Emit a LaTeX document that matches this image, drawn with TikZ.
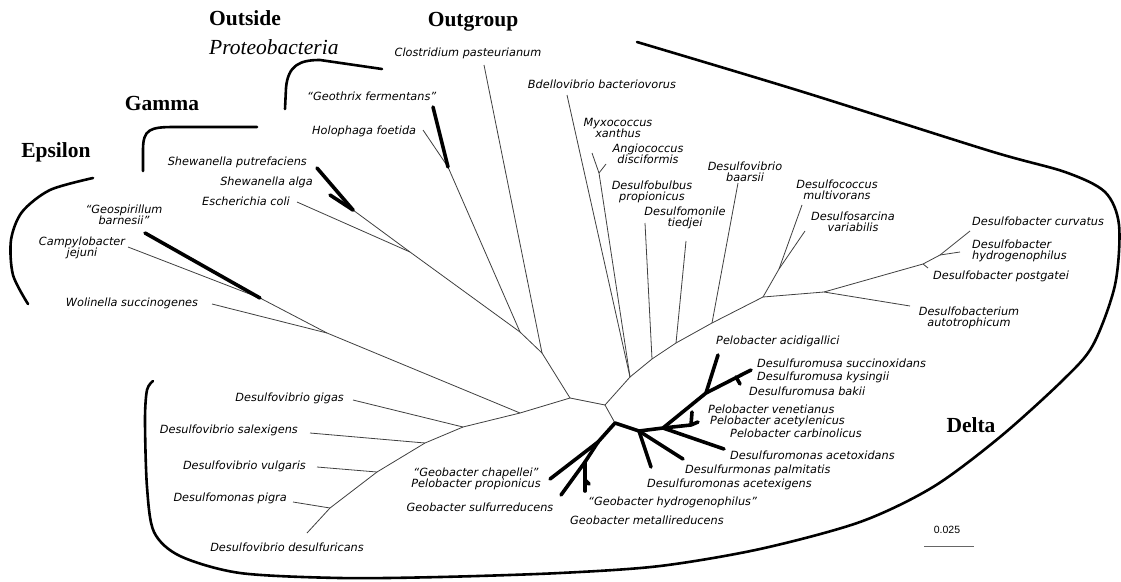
\documentclass[tikz,border=0pt]{standalone}
\usepackage{fontspec}
\newfontfamily\taxfont{DejaVu Sans}
\newfontfamily\cladefont{Liberation Serif}
\newfontfamily\barfont{Liberation Sans}
\usetikzlibrary{calc}
\tikzset{
  branch/.style={line width=0.8pt, draw=black!75, line join=round},
  heavy/.style={line width=3.6pt, draw=black, line cap=round, line join=round},
  bracket/.style={line width=2.6pt, draw=black, line cap=round, line join=round},
  taxon/.style={font=\taxfont\fontsize{11.3pt}{11.4pt}\selectfont\itshape, inner sep=0pt, align=center},
  clade/.style={font=\cladefont\fontsize{21.5pt}{24pt}\selectfont\bfseries, inner sep=0pt, align=left},
  scalebar/.style={line width=0.9pt, draw=black!60}
}
\begin{document}
\begin{tikzpicture}[x=1pt,y=-1pt]
\useasboundingbox (0,0) rectangle (1121,581);
\fill[white] (0,0) rectangle (1121,581);

% inner junctions
\coordinate (A) at (570,398);
\coordinate (B) at (605,405);
\coordinate (C) at (630,377);
\coordinate (D) at (615,423);
\coordinate (E) at (520,413);
\coordinate (F) at (542,353);
\coordinate (G) at (520,332);

% outgroup and gamma side
\coordinate (tClos) at (484,65);
\coordinate (H) at (448,167);
\coordinate (tGeot) at (433,107);
\coordinate (tHolo) at (423,130);
\coordinate (J) at (410,252);
\coordinate (S1) at (353,210);
\coordinate (tSput) at (317,168);
\coordinate (tSalg) at (330,195);
\coordinate (tEcoli) at (297,202);

% epsilon
\coordinate (K) at (260,298);
\coordinate (L) at (327,333);
\coordinate (tGeos) at (145,233);
\coordinate (tCamp) at (128,247);
\coordinate (tWol) at (212,304);

% desulfovibrio line
\coordinate (M) at (463,427);
\coordinate (N) at (425,443);
\coordinate (O) at (377,472);
\coordinate (P) at (330,508);
\coordinate (tDdes) at (307,533);
\coordinate (tGigas) at (353,400);
\coordinate (tSalex) at (310,433);
\coordinate (tVulg) at (317,467);
\coordinate (tPigra) at (293,502);

% myxobacteria and sulfate reducers
\coordinate (tBdel) at (567,95);
\coordinate (R) at (599,173);
\coordinate (tMyxo) at (592,153);
\coordinate (tAngio) at (606,164);
\coordinate (c1) at (652,359);
\coordinate (c2) at (676,343);
\coordinate (c3) at (712,323);
\coordinate (S) at (763,297);
\coordinate (T) at (779,269);
\coordinate (U) at (824,292);
\coordinate (W1) at (923,264);
\coordinate (W2) at (940,255);
\coordinate (tBulb) at (645,223);
\coordinate (tMoni) at (686,241);
\coordinate (tBaar) at (738,183);
\coordinate (tCocc) at (802,205);
\coordinate (tSarc) at (805,231);
\coordinate (tBact) at (910,306);
\coordinate (tPost) at (928,268);
\coordinate (tHydr) at (960,252);
\coordinate (tCurv) at (970,231);

% geobacter cluster
\coordinate (Z1) at (598,442);
\coordinate (Z2) at (585,462);
\coordinate (Z3) at (585,480);
\coordinate (tChap) at (550,479);
\coordinate (tSulf) at (561,495);
\coordinate (tHyd) at (585,491);
\coordinate (tMet) at (589,484);
\coordinate (X1) at (639,431);
\coordinate (X2) at (663,428);
\coordinate (X3) at (706,393);
\coordinate (Y) at (691,425);
\coordinate (Xm) at (736,377);
\coordinate (tAcex) at (651,467);
\coordinate (tPalm) at (683,459);
\coordinate (tAcox) at (724,449);
\coordinate (tVene) at (692,412);
\coordinate (tAcet) at (698,422);
\coordinate (tAcid) at (718,355);
\coordinate (tMusa) at (751,370);
\coordinate (tBaki) at (740,384);

% thin branches
\draw[branch] (E) -- (A) -- (B) -- (C);
\draw[branch] (B) -- (D);
\draw[branch] (A) -- (F) -- (G) -- (J) -- (S1);
\draw[branch] (F) -- (tClos);
\draw[branch] (G) -- (H) -- (tHolo);
\draw[branch] (J) -- (tEcoli);
\draw[branch] (E) -- (L) -- (K) -- (tCamp);
\draw[branch] (L) -- (tWol);
\draw[branch] (E) -- (M) -- (N) -- (O) -- (P) -- (tDdes);
\draw[branch] (M) -- (tGigas);
\draw[branch] (N) -- (tSalex);
\draw[branch] (O) -- (tVulg);
\draw[branch] (P) -- (tPigra);
\draw[branch] (C) -- (tBdel);
\draw[branch] (C) -- (R) -- (tMyxo);
\draw[branch] (R) -- (tAngio);
\draw[branch] (C) -- (c1) -- (c2) -- (c3) -- (S) -- (U) -- (W1) -- (W2) -- (tCurv);
\draw[branch] (c1) -- (tBulb);
\draw[branch] (c2) -- (tMoni);
\draw[branch] (c3) -- (tBaar);
\draw[branch] (S) -- (T) -- (tCocc);
\draw[branch] (T) -- (tSarc);
\draw[branch] (U) -- (tBact);
\draw[branch] (W1) -- (tPost);
\draw[branch] (W2) -- (tHydr);

% thick branches
\draw[heavy] (H) -- (tGeot);
\draw[heavy] (S1) -- (tSput);
\draw[heavy] (S1) -- (tSalg);
\draw[heavy] (K) -- (tGeos);
\draw[heavy] (tChap) -- (Z1) -- (D) -- (X1) -- (X2) -- (X3) -- (tMusa);
\draw[heavy] (Z1) -- (Z2) -- (tSulf);
\draw[heavy] (Z2) -- (tHyd);
\draw[heavy] (Z3) -- (tMet);
\draw[heavy] (X1) -- (tAcex);
\draw[heavy] (X1) -- (tPalm);
\draw[heavy] (X2) -- (tAcox);
\draw[heavy] (X2) -- (Y) -- (tVene);
\draw[heavy] (Y) -- (tAcet);
\draw[heavy] (X3) -- (tAcid);
\draw[heavy] (Xm) -- (tBaki);

% taxa
\node[taxon] (lClos) at (468,53) {Clostridium pasteurianum};
\node[taxon] (lBdel) at (602,84) {Bdellovibrio bacteriovorus};
\node[taxon] (lMyxo) at (618,128) {Myxococcus\\xanthus};
\node[taxon] (lAngio) at (648,154) {Angiococcus\\disciformis};
\node[taxon] (lBulb) at (652,192) {Desulfobulbus\\propionicus};
\node[taxon] (lMoni) at (685,218) {Desulfomonile\\tiedjei};
\node[taxon] (lBaar) at (745,172) {Desulfovibrio\\baarsii};
\node[taxon] (lCocc) at (837,190) {Desulfococcus\\multivorans};
\node[taxon] (lSarc) at (853,222) {Desulfosarcina\\variabilis};
\node[taxon, anchor=west] (lCurv) at (972,221) {Desulfobacter curvatus};
\node[taxon, anchor=west, align=left] (lHydr) at (972,251) {Desulfobacter\\hydrogenophilus};
\node[taxon, anchor=west] (lPost) at (933,276) {Desulfobacter postgatei};
\node[taxon] (lBact) at (969,318) {Desulfobacterium\\autotrophicum};
\node[taxon, anchor=west] (lAcid) at (716,341) {Pelobacter acidigallici};
\node[taxon, anchor=west] (lSucc) at (757,363) {Desulfuromusa succinoxidans};
\node[taxon, anchor=west] (lKysi) at (757,377) {Desulfuromusa kysingii};
\node[taxon, anchor=west] (lBaki) at (749,391) {Desulfuromusa bakii};
\node[taxon, anchor=west] (lVene) at (708,409) {Pelobacter venetianus};
\node[taxon, anchor=west] (lAcet) at (710,421) {Pelobacter acetylenicus};
\node[taxon, anchor=west] (lCarb) at (730,433) {Pelobacter carbinolicus};
\node[taxon, anchor=west] (lAcox) at (730,455) {Desulfuromonas acetoxidans};
\node[taxon, anchor=west] (lPalm) at (685,470) {Desulfurmonas palmitatis};
\node[taxon, anchor=west] (lAcex) at (647,484) {Desulfuromonas acetexigens};
\node[taxon, anchor=west] (lHyd) at (588,502) {“Geobacter hydrogenophilus”};
\node[taxon, anchor=west] (lMet) at (570,520) {Geobacter metallireducens};
\node[taxon] (lChap) at (476,479) {“Geobacter chapellei”\\Pelobacter propionicus};
\node[taxon] (lSulf) at (480,507) {Geobacter sulfurreducens};
\node[taxon, anchor=east] (lGigas) at (344,398) {Desulfovibrio gigas};
\node[taxon, anchor=east] (lSalex) at (298,430) {Desulfovibrio salexigens};
\node[taxon, anchor=east] (lVulg) at (306,466) {Desulfovibrio vulgaris};
\node[taxon, anchor=east] (lPigra) at (287,498) {Desulfomonas pigra};
\node[taxon] (lDdes) at (287,547) {Desulfovibrio desulfuricans};
\node[taxon] (lWol) at (132,303) {Wolinella succinogenes};
\node[taxon] (lCamp) at (82,248) {Campylobacter\\jejuni};
\node[taxon] (lGeos) at (124,215) {“Geospirillum\\barnesii”};
\node[taxon, anchor=east] (lEcoli) at (290,201) {Escherichia coli};
\node[taxon, anchor=east] (lSalg) at (313,182) {Shewanella alga};
\node[taxon, anchor=east] (lSput) at (307,162) {Shewanella putrefaciens};
\node[taxon, anchor=west] (lHolo) at (312,131) {Holophaga foetida};
\node[taxon, anchor=west] (lGeot) at (307,96) {“Geothrix fermentans”};

% groups
\node[clade] (outgroup) at (473,22) {Outgroup};
\node[clade, anchor=west, font=\cladefont\fontsize{21.5pt}{29pt}\selectfont\bfseries] (outside) at (209,33) {Outside\\\mdseries\itshape Proteobacteria};
\node[clade] (gamma) at (162,103) {Gamma};
\node[clade] (epsilon) at (56,152) {Epsilon};
\node[clade] (delta) at (971,425) {Delta};

\draw[bracket] plot[smooth] coordinates {(93,178) (50,190) (22,212) (11,240) (13,275) (28,304)};
\draw[bracket] (143,171) -- (143,150) .. controls (143,129) and (150,127) .. (175,127) -- (257,127);
\draw[bracket] (285,109) -- (286,88) .. controls (288,65) and (300,60) .. (320,60) -- (382,69);
\draw[bracket] plot[smooth, tension=0.5] coordinates {(637,42) (800,91) (990,151) (1065,172) (1105,192) (1119,225) (1115,285) (1093,345) (1063,380) (1000,437) (933,487) (860,522) (760,549) (660,566) (560,573) (440,577) (340,578) (240,573) (180,556) (154,532) (147,487) (145,420) (147,390) (153,381)};

% scale
\node[font=\barfont\fontsize{10.5pt}{12pt}\selectfont, inner sep=0pt] (sclab) at (947,530) {0.025};
\coordinate (sc0) at (924,546);
\coordinate (sc1) at (974,546);
\draw[scalebar] (sc0) -- (sc1);
\end{tikzpicture}
\end{document}
